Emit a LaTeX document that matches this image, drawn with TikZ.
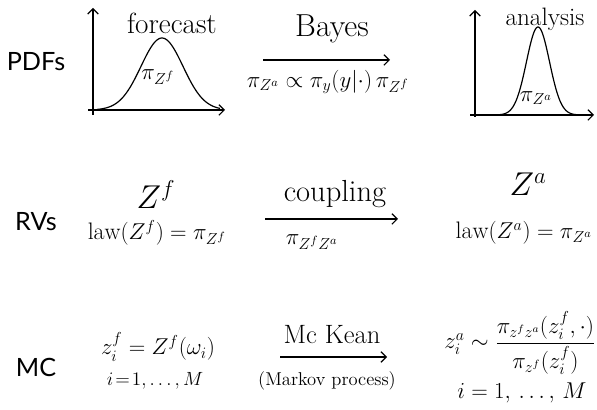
\documentclass[tikz,border=0pt]{standalone}
\usepackage{amsmath,amssymb}
\usepackage{fontspec}
\setsansfont{Lato}
\usetikzlibrary{arrows.meta,positioning,calc}

\begin{document}
\begin{tikzpicture}[x=0.0265cm,y=-0.0265cm,
  >={Straight Barb[length=4pt,width=8pt]},
  ink/.style={line width=0.9pt},
  rowlbl/.style={font=\sffamily\fontsize{19}{22}\selectfont,inner sep=0pt},
  hand/.style={font=\fontsize{18}{22}\selectfont,inner sep=0pt}]
\useasboundingbox (0,0) rectangle (597,410);
% row labels
\node[rowlbl] (pdfs) at (36,62) {PDFs};
\node[rowlbl] (rvs) at (36,222) {RVs};
\node[rowlbl] (mc) at (36,367) {MC};
% forecast density
\draw[ink,->] (93,115) -- (93,8);
\draw[ink,->] (88,110) -- (225,110);
\draw[ink,domain=97:220,samples=80] plot (\x,{110-72*exp(-0.5*((\x-162)/21)^2)});
\node[hand,font=\fontsize{22}{24}\selectfont] (fcst) at (172,23) {forecast};
\node[hand] (pif) at (158,77) {$\pi_{Z^f}$};
% Bayes step
\coordinate (bayesL) at (263,60);
\coordinate (bayesR) at (390,60);
\draw[ink,->] (bayesL) -- (bayesR);
\node[hand,font=\fontsize{24}{26}\selectfont] (bayes) at (332,29) {Bayes};
\node[hand] (bayesrule) at (328,82) {$\pi_{Z^a}\propto\pi_y(y|\cdot)\,\pi_{Z^f}$};
% analysis density
\draw[ink,->] (475,117) -- (475,10);
\draw[ink,->] (470,115) -- (594,115);
\draw[ink,domain=480:592,samples=120] plot (\x,{115-88*exp(-0.5*((\x-538)/11.5)^2)});
\node[hand,font=\fontsize{19}{22}\selectfont] (anls) at (545,19) {analysis};
\node[hand] (pia) at (536,98) {$\pi_{Z^a}$};
% random variables
\node[hand,font=\fontsize{24}{26}\selectfont] (zf) at (156,195) {$Z^f$};
\node[hand] (lawf) at (157,233) {$\mathrm{law}(Z^f)=\pi_{Z^f}$};
\coordinate (coupL) at (265,219);
\coordinate (coupR) at (398,219);
\draw[ink,->] (coupL) -- (coupR);
\node[hand,font=\fontsize{23}{26}\selectfont] (coup) at (335,194) {coupling};
\node[hand] (pifa) at (312,242) {$\pi_{Z^f Z^a}$};
\node[hand,font=\fontsize{24}{26}\selectfont] (za) at (528,184) {$Z^a$};
\node[hand] (lawa) at (524,233) {$\mathrm{law}(Z^a)=\pi_{Z^a}$};
% Monte Carlo
\node[hand,font=\fontsize{17}{20}\selectfont] (zif) at (158,347) {$z_i^f=Z^f(\omega_i)$};
\node[hand,font=\fontsize{15}{20}\selectfont] (idxf) at (155,381) {$i\!=\!1,\dots,M$};
\coordinate (mckL) at (280,357);
\coordinate (mckR) at (387,357);
\draw[ink,->] (mckL) -- (mckR);
\node[hand,font=\fontsize{20}{22}\selectfont] (mck) at (332,335) {Mc Kean};
\node[hand,font=\fontsize{14}{18}\selectfont] (markov) at (327,381) {(Markov process)};
\node[hand,font=\fontsize{17}{20}\selectfont] (zia) at (520,343)
  {$z_i^a\sim\dfrac{\pi_{z^f z^a}(z_i^f,\cdot)}{\pi_{z^f}(z_i^f)}$};
\node[hand,font=\fontsize{18}{20}\selectfont] (idxa) at (522,393) {$i=1,\,\dots,\,M$};
\end{tikzpicture}
\end{document}
